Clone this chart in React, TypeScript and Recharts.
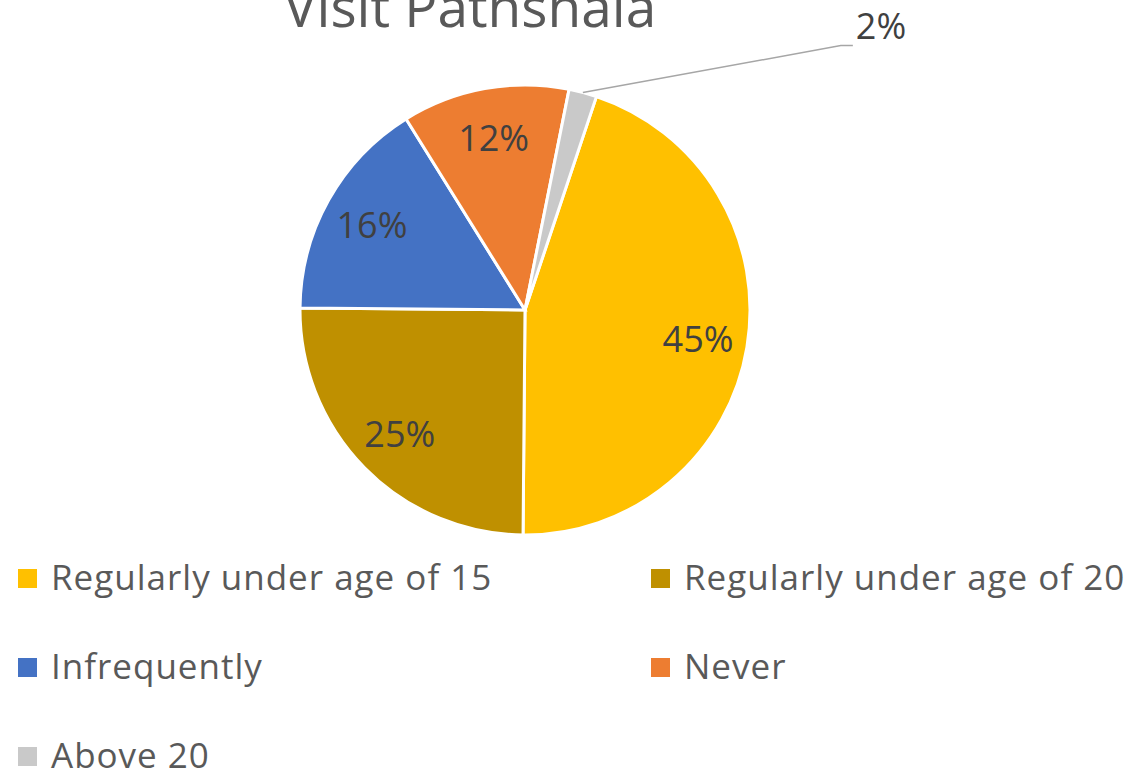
import { Cell, Legend, Pie, PieChart } from "recharts";

const categories = [
  "Regularly under age of 15",
  "Regularly under age of 20",
  "Infrequently",
  "Never",
  "Above 20",
];
const shares = [45, 25, 16, 12, 2];
const sliceColors = ["#FFC000", "#BF9000", "#4472C4", "#ED7D31", "#C9C9C9"];

const chartData = categories.map((name, i) => ({ name, value: shares[i] }));

const RADIAN = Math.PI / 180;
const FONT = "'Open Sans', sans-serif";

// inside labels for big slices, leader line for tiny ones
const renderLabel = (props: any) => {
  const { cx, cy, midAngle, outerRadius, value, index } = props;
  const cos = Math.cos(-midAngle * RADIAN);
  const sin = Math.sin(-midAngle * RADIAN);
  if (value < 5) {
    const x0 = cx + outerRadius * cos;
    const y0 = cy + outerRadius * sin;
    const ex = x0 + 258;
    const ey = y0 - 47;
    return (
      <g key={`lbl-${index}`}>
        <polyline
          points={`${x0},${y0} ${ex},${ey} ${ex + 12},${ey}`}
          fill="none"
          stroke="#A6A6A6"
          strokeWidth={1.5}
        />
        <text
          x={ex + 15}
          y={ey - 20}
          fill="#404040"
          fontSize={36}
          fontFamily={FONT}
          textAnchor="start"
          dominantBaseline="central"
        >
          {`${value}%`}
        </text>
      </g>
    );
  }
  const r = outerRadius * 0.78;
  return (
    <text
      key={`lbl-${index}`}
      x={cx + r * cos}
      y={cy + r * sin}
      fill="#404040"
      fontSize={36}
      fontFamily={FONT}
      textAnchor="middle"
      dominantBaseline="central"
    >
      {`${value}%`}
    </text>
  );
};

const renderLegend = () => (
  <div
    style={{
      display: "grid",
      gridTemplateColumns: "633px 480px",
      fontFamily: FONT,
      fontSize: 35,
      letterSpacing: 1,
      color: "#595959",
    }}
  >
    {categories.map((name, i) => (
      <div
        key={name}
        style={{ display: "flex", alignItems: "center", height: 89, whiteSpace: "nowrap" }}
      >
        <span
          style={{
            display: "inline-block",
            width: 19,
            height: 19,
            background: sliceColors[i],
            marginRight: 14,
            marginTop: 4,
          }}
        />
        <span>{name}</span>
      </div>
    ))}
  </div>
);

export default function App() {
  return (
    <div
      style={{
        position: "absolute",
        left: 0,
        top: 0,
        width: 1139,
        height: 779,
        overflow: "hidden",
        background: "#fff",
      }}
    >
      <div
        style={{
          position: "absolute",
          left: 0,
          width: 940,
          top: -31,
          textAlign: "center",
          fontFamily: FONT,
          fontSize: 55,
          lineHeight: 1.362,
          color: "#595959",
          whiteSpace: "nowrap",
        }}
      >
        Visit Pathshala
      </div>
      <PieChart width={1139} height={779}>
        <Pie
          data={chartData}
          dataKey="value"
          nameKey="name"
          cx={520}
          cy={305}
          outerRadius={225}
          startAngle={71.5}
          endAngle={-288.5}
          stroke="#FFFFFF"
          strokeWidth={3}
          label={renderLabel}
          labelLine={false}
          isAnimationActive={false}
        >
          {chartData.map((d, i) => (
            <Cell key={d.name} fill={sliceColors[i]} />
          ))}
        </Pie>
        <Legend
          content={renderLegend}
          wrapperStyle={{ position: "absolute", left: 18, top: 532, width: 1120 }}
        />
      </PieChart>
    </div>
  );
}
